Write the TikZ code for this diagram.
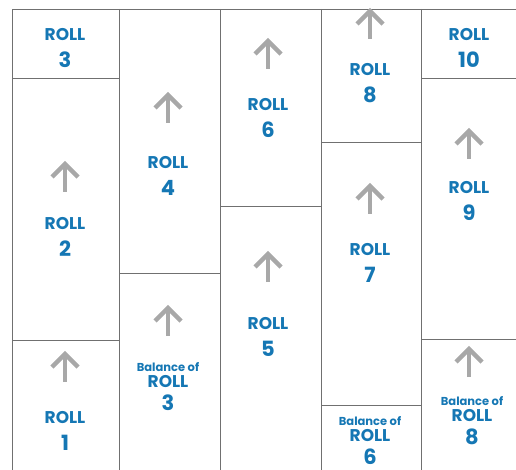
\documentclass[tikz,border=0pt]{standalone}
\usepackage{fontspec}
\newfontfamily\pop{Poppins}
\definecolor{rollblue}{HTML}{1577B4}
\definecolor{arrgray}{HTML}{A8A8A8}
\definecolor{linegray}{HTML}{707070}
\tikzset{
  grid/.style={draw=linegray, line width=0.9pt},
  uparrow/.style={draw=arrgray, line width=4.4pt, miter limit=10},
  rolltxt/.style={text=rollblue, font=\pop\bfseries\fontsize{17}{18}\selectfont, inner sep=0pt},
  numtxt/.style={text=rollblue, font=\pop\bfseries\fontsize{21}{22}\selectfont, inner sep=0pt},
  baltxt/.style={text=rollblue, font=\pop\bfseries\fontsize{11.5}{12}\selectfont, inner sep=0pt},
}
\newcommand{\rollat}[4]{% name, x, y, number
  \node[rolltxt] (#1a) at (#2,#3) {ROLL};
  \node[numtxt] (#1b) at (#2,#3+25) {#4};
}
\newcommand{\balat}[4]{% name, x, y, number
  \node[baltxt] (#1c) at (#2,#3) {Balance of};
  \node[rolltxt] (#1a) at (#2,#3+15) {ROLL};
  \node[numtxt] (#1b) at (#2,#3+36) {#4};
}
\newcommand{\arrowat}[2]{% x, ytop
  \draw[uparrow] (#1,#2+29) -- (#1,#2+2);
  \draw[uparrow] (#1-13,#2+14) -- (#1,#2+1) -- (#1+13,#2+14);
}
\begin{document}
\begin{tikzpicture}[x=1pt,y=-1pt]
\useasboundingbox (0,0) rectangle (516,470);
% grid
\draw[grid] (516,9) -- (12,9) -- (12,470);
\foreach \x in {119,220,321,421} \draw[grid] (\x,9) -- (\x,470);
\draw[grid] (12,78) -- (119,78);
\draw[grid] (12,340) -- (119,340);
\draw[grid] (119,273) -- (220,273);
\draw[grid] (220,206) -- (321,206);
\draw[grid] (321,142) -- (421,142);
\draw[grid] (321,405) -- (421,405);
\draw[grid] (421,78) -- (516,78);
\draw[grid] (421,339) -- (516,339);
% column 1
\rollat{r3}{65}{35}{3}
\arrowat{65}{163}
\rollat{r2}{65}{224}{2}
\arrowat{65}{353}
\rollat{r1}{65}{418}{1}
% column 2
\arrowat{168}{94}
\rollat{r4}{168}{163}{4}
\arrowat{168}{307}
\balat{b3}{168}{367}{3}
% column 3
\arrowat{268}{40}
\rollat{r6}{268}{105}{6}
\arrowat{268}{253}
\rollat{r5}{268}{324}{5}
% column 4
\arrowat{370}{10}
\rollat{r8}{370}{70}{8}
\arrowat{370}{185}
\rollat{r7}{370}{250}{7}
\balat{b6}{370}{421}{6}
% column 5
\rollat{r10}{469}{35}{10}
\arrowat{469}{130}
\rollat{r9}{469}{188}{9}
\arrowat{469}{348}
\balat{b8}{472}{401}{8}
\end{tikzpicture}
\end{document}
